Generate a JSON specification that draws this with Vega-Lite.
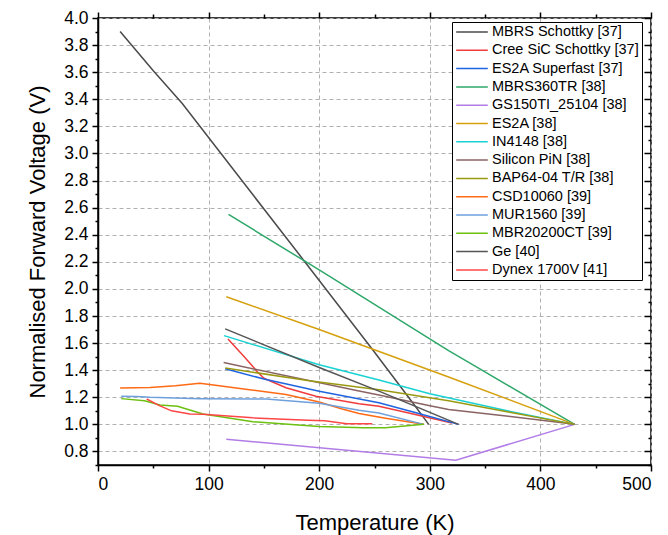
{
  "$schema": "https://vega.github.io/schema/vega-lite/v6.json",
  "autosize": "none",
  "width": 553,
  "height": 447,
  "padding": {"left": 98, "top": 18, "right": 17, "bottom": 70},
  "background": "white",
  "config": {
    "view": {"stroke": "black", "strokeWidth": 1.5},
    "font": "Liberation Sans",
    "axis": {
      "labelFont": "Liberation Sans", "labelFontSize": 17.5, "labelColor": "black",
      "titleFont": "Liberation Sans", "titleFontSize": 22, "titleFontWeight": "normal", "titleColor": "black",
      "domainColor": "black", "domainWidth": 1.5, "tickColor": "black", "tickWidth": 1.5,
      "gridColor": "#b0b0b0", "gridDash": [4, 3], "gridWidth": 1
    },
    "legend": {
      "labelFont": "Liberation Sans", "labelFontSize": 14.5, "labelColor": "black"
    }
  },
  "data": {"values": [
    {"s": "MBRS Schottky [37]", "T": 20, "V": 3.90},
    {"s": "MBRS Schottky [37]", "T": 50, "V": 3.61},
    {"s": "MBRS Schottky [37]", "T": 76, "V": 3.37},
    {"s": "MBRS Schottky [37]", "T": 141.5, "V": 2.68},
    {"s": "MBRS Schottky [37]", "T": 188, "V": 2.19},
    {"s": "MBRS Schottky [37]", "T": 248, "V": 1.555},
    {"s": "MBRS Schottky [37]", "T": 284, "V": 1.165},
    {"s": "MBRS Schottky [37]", "T": 299, "V": 1.0},

    {"s": "Cree SiC Schottky [37]", "T": 117.5, "V": 1.631},
    {"s": "Cree SiC Schottky [37]", "T": 131, "V": 1.51},
    {"s": "Cree SiC Schottky [37]", "T": 144.5, "V": 1.385},
    {"s": "Cree SiC Schottky [37]", "T": 150, "V": 1.34},
    {"s": "Cree SiC Schottky [37]", "T": 170, "V": 1.27},
    {"s": "Cree SiC Schottky [37]", "T": 197, "V": 1.207},
    {"s": "Cree SiC Schottky [37]", "T": 236, "V": 1.152},
    {"s": "Cree SiC Schottky [37]", "T": 254, "V": 1.133},
    {"s": "Cree SiC Schottky [37]", "T": 280, "V": 1.085},
    {"s": "Cree SiC Schottky [37]", "T": 320, "V": 1.01},

    {"s": "ES2A Superfast [37]", "T": 115, "V": 1.41},
    {"s": "ES2A Superfast [37]", "T": 150, "V": 1.335},
    {"s": "ES2A Superfast [37]", "T": 200, "V": 1.245},
    {"s": "ES2A Superfast [37]", "T": 254, "V": 1.16},
    {"s": "ES2A Superfast [37]", "T": 290, "V": 1.08},
    {"s": "ES2A Superfast [37]", "T": 326, "V": 1.0},

    {"s": "MBRS360TR [38]", "T": 118, "V": 2.55},
    {"s": "MBRS360TR [38]", "T": 200, "V": 2.14},
    {"s": "MBRS360TR [38]", "T": 317, "V": 1.545},
    {"s": "MBRS360TR [38]", "T": 341, "V": 1.43},
    {"s": "MBRS360TR [38]", "T": 431, "V": 1.0},

    {"s": "GS150TI_25104 [38]", "T": 116, "V": 0.89},
    {"s": "GS150TI_25104 [38]", "T": 323.5, "V": 0.735},
    {"s": "GS150TI_25104 [38]", "T": 431, "V": 1.0},

    {"s": "ES2A [38]", "T": 116, "V": 1.942},
    {"s": "ES2A [38]", "T": 200, "V": 1.70},
    {"s": "ES2A [38]", "T": 317, "V": 1.35},
    {"s": "ES2A [38]", "T": 431, "V": 1.0},

    {"s": "IN4148 [38]", "T": 114, "V": 1.655},
    {"s": "IN4148 [38]", "T": 200, "V": 1.44},
    {"s": "IN4148 [38]", "T": 254, "V": 1.328},
    {"s": "IN4148 [38]", "T": 300, "V": 1.226},
    {"s": "IN4148 [38]", "T": 370, "V": 1.10},
    {"s": "IN4148 [38]", "T": 431, "V": 1.0},

    {"s": "Silicon PiN [38]", "T": 113.6, "V": 1.456},
    {"s": "Silicon PiN [38]", "T": 236, "V": 1.246},
    {"s": "Silicon PiN [38]", "T": 254, "V": 1.217},
    {"s": "Silicon PiN [38]", "T": 299, "V": 1.14},
    {"s": "Silicon PiN [38]", "T": 317, "V": 1.11},
    {"s": "Silicon PiN [38]", "T": 371, "V": 1.06},
    {"s": "Silicon PiN [38]", "T": 431, "V": 1.0},

    {"s": "BAP64-04 T/R [38]", "T": 115, "V": 1.416},
    {"s": "BAP64-04 T/R [38]", "T": 191, "V": 1.322},
    {"s": "BAP64-04 T/R [38]", "T": 254, "V": 1.256},
    {"s": "BAP64-04 T/R [38]", "T": 317, "V": 1.175},
    {"s": "BAP64-04 T/R [38]", "T": 371, "V": 1.091},
    {"s": "BAP64-04 T/R [38]", "T": 431, "V": 1.0},

    {"s": "CSD10060 [39]", "T": 20, "V": 1.268},
    {"s": "CSD10060 [39]", "T": 47, "V": 1.272},
    {"s": "CSD10060 [39]", "T": 70, "V": 1.285},
    {"s": "CSD10060 [39]", "T": 92, "V": 1.303},
    {"s": "CSD10060 [39]", "T": 101, "V": 1.295},
    {"s": "CSD10060 [39]", "T": 137, "V": 1.256},
    {"s": "CSD10060 [39]", "T": 170, "V": 1.22},
    {"s": "CSD10060 [39]", "T": 200, "V": 1.165},
    {"s": "CSD10060 [39]", "T": 220, "V": 1.115},
    {"s": "CSD10060 [39]", "T": 236, "V": 1.08},
    {"s": "CSD10060 [39]", "T": 260, "V": 1.045},
    {"s": "CSD10060 [39]", "T": 294.5, "V": 1.0},

    {"s": "MUR1560 [39]", "T": 21, "V": 1.207},
    {"s": "MUR1560 [39]", "T": 35, "V": 1.205},
    {"s": "MUR1560 [39]", "T": 47, "V": 1.2},
    {"s": "MUR1560 [39]", "T": 92, "V": 1.19},
    {"s": "MUR1560 [39]", "T": 152, "V": 1.187},
    {"s": "MUR1560 [39]", "T": 200, "V": 1.155},
    {"s": "MUR1560 [39]", "T": 236, "V": 1.105},
    {"s": "MUR1560 [39]", "T": 254, "V": 1.084},
    {"s": "MUR1560 [39]", "T": 294.5, "V": 1.0},

    {"s": "MBR20200CT [39]", "T": 21, "V": 1.19},
    {"s": "MBR20200CT [39]", "T": 42, "V": 1.175},
    {"s": "MBR20200CT [39]", "T": 56, "V": 1.143},
    {"s": "MBR20200CT [39]", "T": 72, "V": 1.133},
    {"s": "MBR20200CT [39]", "T": 80, "V": 1.113},
    {"s": "MBR20200CT [39]", "T": 95, "V": 1.076},
    {"s": "MBR20200CT [39]", "T": 140, "V": 1.02},
    {"s": "MBR20200CT [39]", "T": 200, "V": 0.985},
    {"s": "MBR20200CT [39]", "T": 240, "V": 0.975},
    {"s": "MBR20200CT [39]", "T": 260, "V": 0.975},
    {"s": "MBR20200CT [39]", "T": 294.5, "V": 1.0},

    {"s": "Ge [40]", "T": 115, "V": 1.705},
    {"s": "Ge [40]", "T": 200, "V": 1.42},
    {"s": "Ge [40]", "T": 254, "V": 1.245},
    {"s": "Ge [40]", "T": 326, "V": 1.0},

    {"s": "Dynex 1700V [41]", "T": 44, "V": 1.187},
    {"s": "Dynex 1700V [41]", "T": 55, "V": 1.14},
    {"s": "Dynex 1700V [41]", "T": 66.5, "V": 1.10},
    {"s": "Dynex 1700V [41]", "T": 83, "V": 1.076},
    {"s": "Dynex 1700V [41]", "T": 95, "V": 1.074},
    {"s": "Dynex 1700V [41]", "T": 140, "V": 1.048},
    {"s": "Dynex 1700V [41]", "T": 190, "V": 1.03},
    {"s": "Dynex 1700V [41]", "T": 205, "V": 1.027},
    {"s": "Dynex 1700V [41]", "T": 225, "V": 1.005},
    {"s": "Dynex 1700V [41]", "T": 248, "V": 1.005}
  ]},
  "resolve": {"axis": {"x": "independent", "y": "independent"}},
  "layer": [
    {
      "mark": {"type": "line", "strokeWidth": 1.5, "interpolate": "linear"},
      "encoding": {
        "x": {"field": "T", "type": "quantitative",
          "scale": {"domain": [0, 500], "nice": false, "zero": false},
          "axis": {"orient": "bottom", "title": "Temperature (K)", "values": [0, 100, 200, 300, 400, 500],
            "tickSize": 6, "labelPadding": 4, "grid": true, "titlePadding": 20}},
        "y": {"field": "V", "type": "quantitative",
          "scale": {"domain": [0.7, 4.0], "nice": false, "zero": false},
          "axis": {"orient": "left", "title": "Normalised Forward Voltage (V)", "format": ".1f",
            "values": [0.8, 1.0, 1.2, 1.4, 1.6, 1.8, 2.0, 2.2, 2.4, 2.6, 2.8, 3.0, 3.2, 3.4, 3.6, 3.8, 4.0],
            "tickSize": 6, "labelPadding": 4, "grid": true, "titlePadding": 14}},
        "color": {"field": "s", "type": "nominal",
          "scale": {
            "domain": ["MBRS Schottky [37]", "Cree SiC Schottky [37]", "ES2A Superfast [37]", "MBRS360TR [38]", "GS150TI_25104 [38]", "ES2A [38]", "IN4148 [38]", "Silicon PiN [38]", "BAP64-04 T/R [38]", "CSD10060 [39]", "MUR1560 [39]", "MBR20200CT [39]", "Ge [40]", "Dynex 1700V [41]"],
            "range": ["#4a4a4a", "#f03c3c", "#1f64e0", "#2ea86a", "#b27ce6", "#d6a00c", "#1ad2d2", "#8a6464", "#9a9a12", "#ff6a14", "#6ea0dc", "#6cc010", "#555555", "#ff4646"]
          },
          "legend": {
            "title": null, "orient": "none", "legendX": 354, "legendY": 4,
            "symbolType": "stroke", "symbolSize": 1000, "symbolStrokeWidth": 1.5,
            "clipHeight": 14, "rowPadding": 3.3, "labelOffset": 3, "labelLimit": 300,
            "strokeColor": "black", "fillColor": "white", "padding": 3, "cornerRadius": 0
          }}
      }
    },
    {
      "mark": {"type": "point", "opacity": 0},
      "encoding": {
        "x": {"field": "T", "type": "quantitative",
          "axis": {"orient": "bottom", "title": null, "values": [50, 150, 250, 350, 450], "tickSize": 3, "labels": false, "domain": false, "grid": false}},
        "y": {"field": "V", "type": "quantitative",
          "axis": {"orient": "left", "title": null, "values": [0.7, 0.9, 1.1, 1.3, 1.5, 1.7, 1.9, 2.1, 2.3, 2.5, 2.7, 2.9, 3.1, 3.3, 3.5, 3.7, 3.9], "tickSize": 3, "labels": false, "domain": false, "grid": false}}
      }
    },
    {
      "mark": {"type": "point", "opacity": 0},
      "encoding": {
        "x": {"field": "T", "type": "quantitative",
          "axis": {"orient": "top", "title": null, "values": [0, 100, 200, 300, 400, 500], "tickSize": 6, "labels": false, "domain": false, "grid": false}},
        "y": {"field": "V", "type": "quantitative",
          "axis": {"orient": "right", "title": null, "values": [0.8, 1.0, 1.2, 1.4, 1.6, 1.8, 2.0, 2.2, 2.4, 2.6, 2.8, 3.0, 3.2, 3.4, 3.6, 3.8, 4.0], "tickSize": -7, "labels": false, "domain": false, "grid": false}}
      }
    },
    {
      "mark": {"type": "point", "opacity": 0},
      "encoding": {
        "x": {"field": "T", "type": "quantitative",
          "axis": {"orient": "top", "title": null, "values": [50, 150, 250, 350, 450], "tickSize": 4, "labels": false, "domain": false, "grid": false}},
        "y": {"field": "V", "type": "quantitative",
          "axis": {"orient": "right", "title": null, "values": [0.7, 0.9, 1.1, 1.3, 1.5, 1.7, 1.9, 2.1, 2.3, 2.5, 2.7, 2.9, 3.1, 3.3, 3.5, 3.7, 3.9], "tickSize": -3, "labels": false, "domain": false, "grid": false}}
      }
    }
  ]
}
